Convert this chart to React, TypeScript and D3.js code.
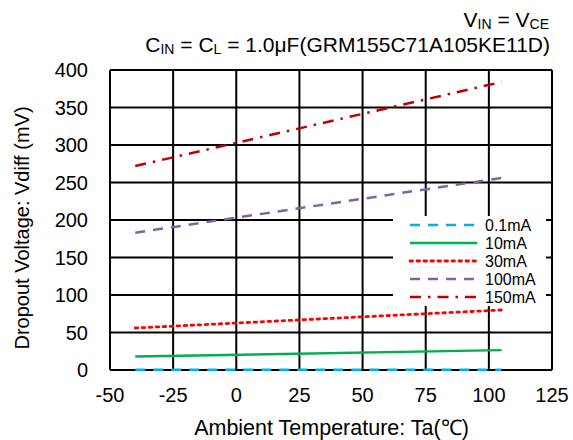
import React from "react";
import * as d3 from "d3";

const xTicks = [-50, -25, 0, 25, 50, 75, 100, 125];
const yTicks = [0, 50, 100, 150, 200, 250, 300, 350, 400];

const temps = [-40, 105];
const s01mA = [0.3, 0.3];
const s10mA = [18, 26.5];
const s30mA = [56, 80];
const s100mA = [183, 256];
const s150mA = [272, 384];

const seriesNames = ["0.1mA", "10mA", "30mA", "100mA", "150mA"];
const seriesData = [s01mA, s10mA, s30mA, s100mA, s150mA];
const seriesColors = ["#00B0F0", "#00B050", "#FF0000", "#8064A2", "#C00000"];
const seriesDash = ["10 8", "", "2.5 4.5", "10 8", "11 7 2.5 7"];
const seriesCap = ["butt", "butt", "round", "butt", "butt"];

export default function App() {
  const W = 573, H = 440;
  const x = d3.scaleLinear().domain([-50, 125]).range([110, 552]);
  const y = d3.scaleLinear().domain([0, 400]).range([370, 70]);
  const line = d3.line<number>().x((_, i) => x(temps[i])).y((d) => y(d));
  const font = "'Liberation Sans', Arial, sans-serif";
  const lx0 = 410, lx1 = 477;
  const legendY = [225, 243, 261, 279, 297];

  return (
    <svg width={W} height={H} style={{ position: "absolute", left: 0, top: 0, background: "#fff" }} fontFamily={font}>
      <rect x={0} y={0} width={W} height={H} fill="#fff" />
      {/* grid */}
      {xTicks.map((t) => (
        <line key={"gx" + t} x1={x(t)} x2={x(t)} y1={y(0)} y2={y(400)} stroke="#000" strokeWidth={2} />
      ))}
      {yTicks.map((t) => (
        <line key={"gy" + t} x1={x(-50)} x2={x(125)} y1={y(t)} y2={y(t)} stroke="#000" strokeWidth={2} />
      ))}
      {/* series */}
      {seriesData.map((d, i) => (
        <path key={seriesNames[i]} d={line(d) || ""} fill="none" stroke={seriesColors[i]} strokeWidth={i === 2 ? 2.8 : 2.5}
          strokeDasharray={seriesDash[i] || undefined} strokeLinecap={seriesCap[i] as any} />
      ))}
      {/* legend */}
      <rect x={393} y={216} width={153} height={90} fill="#fff" />
      {seriesNames.map((n, i) => (
        <g key={"lg" + n}>
          <line x1={lx0} x2={lx1} y1={legendY[i]} y2={legendY[i]} stroke={seriesColors[i]} strokeWidth={i === 2 ? 2.8 : 2.5}
            strokeDasharray={seriesDash[i] || undefined} strokeLinecap={seriesCap[i] as any} />
          <text x={485} y={legendY[i]} dy="0.36em" fontSize={16} fill="#000">{n}</text>
        </g>
      ))}
      {/* tick labels */}
      {xTicks.map((t) => (
        <text key={"xt" + t} x={x(t)} y={402} textAnchor="middle" fontSize={20} fill="#000">{t}</text>
      ))}
      {yTicks.map((t) => (
        <text key={"yt" + t} x={88} y={y(t)} dy="0.36em" textAnchor="end" fontSize={20} fill="#000">{t}</text>
      ))}
      {/* axis titles */}
      <text x={331.5} y={435} textAnchor="middle" fontSize={21.5} fill="#000">Ambient Temperature: Ta(℃)</text>
      <text transform="translate(29,228) rotate(-90)" textAnchor="middle" fontSize={20} fill="#000">Dropout Voltage:  Vdiff (mV)</text>
      {/* title */}
      <text x={549} y={27} textAnchor="end" fontSize={21} fill="#000">
        V<tspan fontSize={14} dy={1.5}>IN</tspan><tspan dy={-1.5}> = V</tspan><tspan fontSize={14} dy={1.5}>CE</tspan>
      </text>
      <text x={550} y={52} textAnchor="end" fontSize={21} fill="#000">
        C<tspan fontSize={14} dy={1.5}>IN</tspan><tspan dy={-1.5}> = C</tspan><tspan fontSize={14} dy={1.5}>L</tspan><tspan dy={-1.5}> = 1.0μF(GRM155C71A105KE11D)</tspan>
      </text>
    </svg>
  );
}
